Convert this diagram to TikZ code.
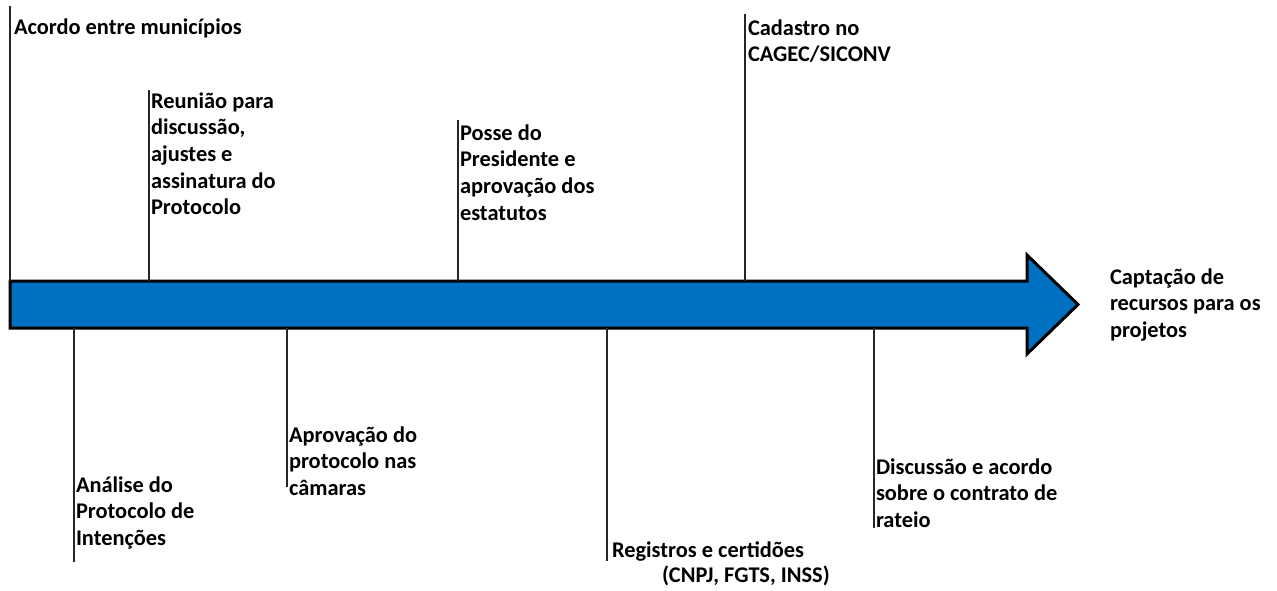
\documentclass[tikz,border=0pt]{standalone}
\usepackage{fontspec}
\setmainfont{Carlito}
\usepackage{array}
\tikzset{
  lbl/.style={anchor=base west, inner sep=0pt, outer sep=0pt, font=\fontsize{22.4}{26.7}\selectfont\bfseries},
  leader/.style={draw=black!85, line width=1.2pt},
  bigarrow/.style={draw=black, line width=3pt, fill=arrowblue, line join=miter}
}
\definecolor{arrowblue}{RGB}{0,112,192}
\newcommand{\lines}[1]{\begin{tabular}[t]{@{}l@{}}#1\end{tabular}}
\begin{document}
\begin{tikzpicture}[x=1pt,y=-1pt]
\useasboundingbox (0,0) rectangle (1277,590);
% arrow
\draw[bigarrow] (10,281) -- (1027,281) -- (1027,255) -- (1078,304.5) -- (1027,354) -- (1027,328) -- (10,328) -- cycle;
% top leaders
\coordinate (t1a) at (10,6);    \coordinate (t1b) at (10,281);
\coordinate (t2a) at (149,90);  \coordinate (t2b) at (149,281);
\coordinate (t3a) at (458,120); \coordinate (t3b) at (458,281);
\coordinate (t4a) at (745,14);  \coordinate (t4b) at (745,281);
% bottom leaders
\coordinate (b1a) at (74,328);  \coordinate (b1b) at (74,562);
\coordinate (b2a) at (287,328); \coordinate (b2b) at (287,487);
\coordinate (b3a) at (607,328); \coordinate (b3b) at (607,561);
\coordinate (b4a) at (874,328); \coordinate (b4b) at (874,528);
\foreach \p in {t1,t2,t3,t4,b1,b2,b3,b4} \draw[leader] (\p a) -- (\p b);
% labels
\node[lbl] (acordo) at (14,34) {Acordo entre municípios};
\node[lbl] (reuniao) at (151,108) {\lines{Reunião para\\discussão,\\ajustes e\\assinatura do\\Protocolo}};
\node[lbl] (posse) at (460,140) {\lines{Posse do\\Presidente e\\aprovação dos\\estatutos}};
\node[lbl] (cadastro) at (748,35) {\lines{Cadastro no\\CAGEC/SICONV}};
\node[lbl] (captacao) at (1110,284) {\lines{Captação de\\recursos para os\\projetos}};
\node[lbl] (analise) at (76,492) {\lines{Análise do\\Protocolo de\\Intenções}};
\node[lbl] (aprovacao) at (289,442) {\lines{Aprovação do\\protocolo nas\\câmaras}};
\node[lbl] (discussao) at (876,474) {\lines{Discussão e acordo\\sobre o contrato de\\rateio}};
\node[lbl] (registros) at (612,557) {Registros e certidões};
\node[lbl] (cnpj) at (662,582) {(CNPJ, FGTS, INSS)};
\end{tikzpicture}
\end{document}
